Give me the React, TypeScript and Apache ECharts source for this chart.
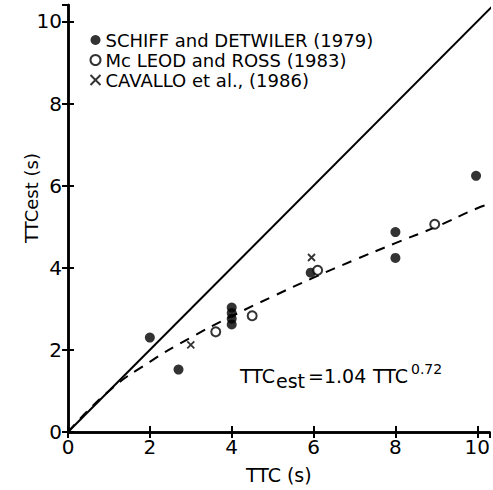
import React, { useEffect, useRef } from "react";
import * as echarts from "echarts";

// Schiff and Detwiler (1979) – filled circles
const schiffX = [2.0, 2.7, 4.0, 4.0, 4.0, 4.0, 5.93, 8.0, 8.0, 9.97];
const schiffY = [2.3, 1.52, 2.62, 2.76, 2.9, 3.03, 3.88, 4.87, 4.24, 6.24];
// Mc Leod and Ross (1983) – open circles
const mcleodX = [3.61, 4.5, 6.1, 8.96];
const mcleodY = [2.44, 2.83, 3.94, 5.06];
// Cavallo et al. (1986) – crosses
const cavalloX = [3.0, 5.95];
const cavalloY = [2.12, 4.25];
// identity line TTCest = TTC
const identityX = [0, 10.4];
const identityY = [0, 10.4];
// fitted curve TTCest = 1.04 TTC^0.72
const fitX = [0, 1, 2, 3, 4, 5, 6, 7, 8, 9, 10, 10.3];
const fitY = [0, 1.0, 1.71, 2.3, 2.82, 3.3, 3.76, 4.19, 4.6, 5.0, 5.45, 5.55];
const tickValues = [0, 2, 4, 6, 8, 10];

const names = [
  "SCHIFF and DETWILER (1979)",
  "Mc LEOD and ROSS (1983)",
  "CAVALLO et al., (1986)",
];

const FONT = "DejaVu Sans";
const zip = (xs: number[], ys: number[]) => xs.map((x, i) => [x, ys[i]]);
const crossPath = "path://M0,0L10,10M10,0L0,10";

export default function App() {
  const ref = useRef<HTMLDivElement>(null);
  useEffect(() => {
    if (!ref.current) return;
    const chart = echarts.init(ref.current, null, { renderer: "svg" });
    const labelFmt = (v: number) => (tickValues.includes(v) ? String(v) : "");
    const axisLineStyle = { lineStyle: { color: "#000", width: 2.5 } };
    const tickStyle = { inside: true, length: 6, lineStyle: { color: "#000", width: 2 } };
    chart.setOption({
      animation: false,
      backgroundColor: "#fff",
      textStyle: { fontFamily: FONT, color: "#000" },
      grid: { left: 68, right: 1, top: 5, bottom: 58, containLabel: false },
      legend: {
        orient: "vertical",
        left: 88,
        top: 31,
        padding: 0,
        itemGap: 2,
        itemWidth: 10,
        itemHeight: 10,
        data: names,
        textStyle: { fontFamily: FONT, fontSize: 18, color: "#000", lineHeight: 18 },
      },
      xAxis: [
        {
          type: "value",
          min: 0,
          max: 10.3,
          interval: 2,
          splitLine: { show: false },
          axisLine: axisLineStyle,
          axisTick: tickStyle,
          axisLabel: {
            formatter: labelFmt,
            showMaxLabel: false,
            fontSize: 20,
            fontFamily: FONT,
            color: "#000",
            margin: 5,
          },
          name: "TTC (s)",
          nameLocation: "middle",
          nameGap: 33,
          nameTextStyle: { fontSize: 19, fontFamily: FONT, color: "#000" },
        },
        {
          type: "value",
          position: "top",
          min: 0,
          max: 10.3,
          interval: 2,
          splitLine: { show: false },
          axisLine: axisLineStyle,
          axisTick: tickStyle,
          axisLabel: { show: false },
        },
      ],
      yAxis: [
        {
          type: "value",
          min: 0,
          max: 10.4,
          interval: 2,
          splitLine: { show: false },
          axisLine: axisLineStyle,
          axisTick: tickStyle,
          axisLabel: {
            formatter: labelFmt,
            showMaxLabel: false,
            fontSize: 20,
            fontFamily: FONT,
            color: "#000",
            margin: 6,
          },
        },
        {
          type: "value",
          position: "right",
          min: 0,
          max: 10.4,
          interval: 2,
          splitLine: { show: false },
          axisLine: axisLineStyle,
          axisTick: tickStyle,
          axisLabel: { show: false },
        },
      ],
      series: [
        {
          type: "line",
          data: zip(identityX, identityY),
          showSymbol: false,
          lineStyle: { color: "#000", width: 2 },
          z: 1,
        },
        {
          type: "line",
          data: zip(fitX, fitY),
          showSymbol: false,
          smooth: true,
          lineStyle: { color: "#000", width: 2, type: [10, 8] },
          z: 1,
        },
        {
          name: names[0],
          type: "scatter",
          data: zip(schiffX, schiffY),
          symbol: "circle",
          symbolSize: 10,
          itemStyle: { color: "#000" },
          z: 3,
        },
        {
          name: names[1],
          type: "scatter",
          data: zip(mcleodX, mcleodY),
          symbol: "circle",
          symbolSize: 9,
          itemStyle: { color: "#fff", borderColor: "#000", borderWidth: 2 },
          z: 3,
        },
        {
          name: names[2],
          type: "scatter",
          data: zip(cavalloX, cavalloY),
          symbol: crossPath,
          symbolSize: 7,
          itemStyle: { color: "none", borderColor: "#000", borderWidth: 1.8 },
          z: 3,
        },
      ],
      graphic: [
        {
          type: "text",
          x: 31,
          y: 198,
          rotation: Math.PI / 2,
          style: {
            text: "TTCest (s)",
            fontSize: 18,
            fontFamily: FONT,
            fill: "#000",
            align: "center",
            verticalAlign: "middle",
          },
        },
        { type: "text", left: 240, top: 366, style: { text: "TTC", fontSize: 19, fontFamily: FONT, fill: "#000" } },
        { type: "text", left: 276, top: 371, style: { text: "est", fontSize: 19, fontFamily: FONT, fill: "#000" } },
        { type: "text", left: 308, top: 366, style: { text: "=1.04", fontSize: 19, fontFamily: FONT, fill: "#000" } },
        { type: "text", left: 373, top: 366, style: { text: "TTC", fontSize: 19, fontFamily: FONT, fill: "#000" } },
        { type: "text", left: 411, top: 362, style: { text: "0.72", fontSize: 14, fontFamily: FONT, fill: "#000" } },
      ],
    });
    return () => chart.dispose();
  }, []);
  return (
    <div
      ref={ref}
      style={{ position: "fixed", left: 0, top: 0, width: 493, height: 490, background: "#fff" }}
    />
  );
}
